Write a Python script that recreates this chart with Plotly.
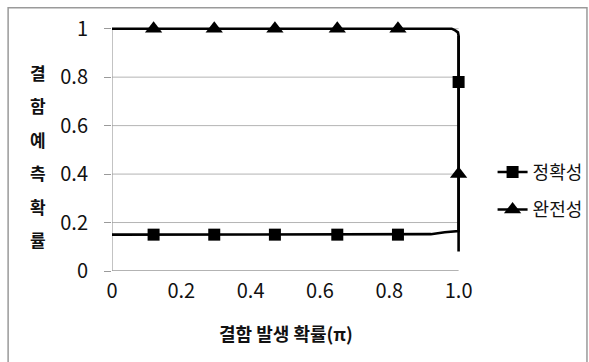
import plotly.graph_objects as go

# Defect occurrence probability (pi) and the two prediction measures
pi_acc = [0.0, 0.12, 0.295, 0.47, 0.65, 0.825, 0.92, 0.96, 1.0, 1.0, 1.0]
acc = [0.15, 0.15, 0.15, 0.15, 0.15, 0.15, 0.152, 0.16, 0.165, 0.78, 0.97]
acc_marked = [1, 2, 3, 4, 5, 9]

pi_comp = [0.0, 0.12, 0.295, 0.47, 0.65, 0.825, 0.98, 0.99, 0.998, 1.0, 1.0, 1.0]
comp = [1.0, 1.0, 1.0, 1.0, 1.0, 1.0, 1.0, 0.993, 0.985, 0.97, 0.40, 0.08]
comp_marked = [1, 2, 3, 4, 5, 10]

x_ticks = [0, 0.2, 0.4, 0.6, 0.8, 1.0]
x_tick_text = ["0", "0.2", "0.4", "0.6", "0.8", "1.0"]
y_ticks = [0, 0.2, 0.4, 0.6, 0.8, 1.0]
y_tick_text = ["0", "0.2", "0.4", "0.6", "0.8", "1"]

x_title = "결함 발생 확률(π)"
y_title = "결함예측확률"

W, H = 589, 362
M_L, M_R, M_T, M_B = 112, 119.6, 19.3, 91
X_RANGE = [0, 1.03]
Y_RANGE = [0, 1.04]

FONT = "Noto Sans CJK KR"
GRID = "#b4b4b4"
AXIS = "#9a9a9a"

fig = go.Figure()

fig.add_trace(go.Scatter(
    x=pi_acc, y=acc, name="정확성", legendgroup="acc",
    mode="lines+markers",
    line=dict(color="black", width=2.6),
    marker=dict(symbol="square", size=12, color="black"),
    selectedpoints=acc_marked,
    selected=dict(marker=dict(opacity=1)),
    unselected=dict(marker=dict(opacity=0)),
    cliponaxis=False,
))
fig.add_trace(go.Scatter(
    x=pi_comp, y=comp, name="완전성", legendgroup="comp",
    mode="lines+markers",
    line=dict(color="black", width=2.6),
    marker=dict(symbol="triangle-up", size=15, color="black"),
    selectedpoints=comp_marked,
    selected=dict(marker=dict(opacity=1)),
    unselected=dict(marker=dict(opacity=0)),
    cliponaxis=False,
))

shapes = []
# horizontal gridlines across the category span
for v in y_ticks[1:]:
    shapes.append(dict(type="line", xref="x", yref="y", x0=0, x1=1.0, y0=v, y1=v,
                       line=dict(color=GRID, width=1), layer="below"))
# value axis and category axis lines
shapes.append(dict(type="line", xref="x", yref="y", x0=0, x1=0, y0=0, y1=1.0,
                   line=dict(color=AXIS, width=1.2), layer="below"))
shapes.append(dict(type="line", xref="x", yref="y", x0=-0.02, x1=1.0, y0=0, y1=0,
                   line=dict(color=AXIS, width=1.5), layer="below"))

# chart frame (paper coordinates from pixel positions)
pw = W - M_L - M_R
ph = H - M_T - M_B


def px_x(p):
    return (p - M_L) / pw


def px_y(p):
    return (H - M_B - p) / ph


shapes.append(dict(type="rect", xref="paper", yref="paper",
                   x0=px_x(8), x1=px_x(587.5), y0=px_y(372), y1=px_y(8),
                   line=dict(color="#9a9a9a", width=1.5), layer="below"))

annotations = []
# stacked vertical axis title
y_pos = [73, 106, 140, 173, 207, 240]
for ch, yp in zip(y_title, y_pos):
    annotations.append(dict(text=f"<b>{ch}</b>", xref="paper", yref="paper",
                            x=px_x(38), y=px_y(yp), showarrow=False,
                            xanchor="center", yanchor="middle",
                            font=dict(family=FONT, size=17, color="#111")))
annotations.append(dict(text=f"<b>{x_title}</b>", xref="paper", yref="paper",
                        x=px_x(286), y=px_y(333), showarrow=False,
                        xanchor="center", yanchor="middle",
                        font=dict(family=FONT, size=18, color="#111")))

fig.update_layout(
    width=W, height=H,
    margin=dict(l=M_L, r=M_R, t=M_T, b=M_B, pad=0, autoexpand=False),
    paper_bgcolor="white", plot_bgcolor="white",
    font=dict(family=FONT, size=20, color="#111"),
    showlegend=True,
    legend=dict(x=px_x(493), y=px_y(154), xanchor="left", yanchor="top",
                font=dict(family=FONT, size=18, color="#111"),
                traceorder="grouped", tracegroupgap=11,
                bgcolor="rgba(0,0,0,0)", itemwidth=30),
    xaxis=dict(range=X_RANGE, tickvals=x_ticks, ticktext=x_tick_text,
               showgrid=False, zeroline=False, showline=False,
               ticks="", ticklabelstandoff=6, fixedrange=True),
    yaxis=dict(range=Y_RANGE, tickvals=y_ticks, ticktext=y_tick_text,
               showgrid=False, zeroline=False, showline=False,
               ticks="outside", ticklen=7, tickcolor=AXIS, tickwidth=1.2,
               ticklabelstandoff=12, fixedrange=True),
    shapes=shapes,
    annotations=annotations,
)

fig.write_html("out.html")
